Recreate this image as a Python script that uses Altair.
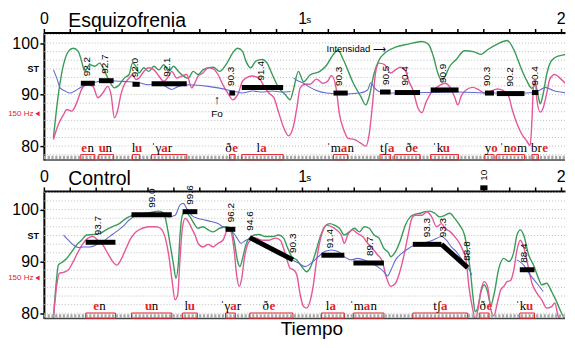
import altair as alt
import pandas as pd

PXS = 259.3            # pixels per second
W, H = 523, 128
X_MAX = W / PXS
SANS = "Liberation Sans"
NARROW = "Liberation Sans Narrow, Liberation Sans"
SERIF = "Liberation Serif, DejaVu Serif"
GREEN, PINK, BLUE, RED = "#3a9b58", "#e4579a", "#636acd", "#e4232b"

TIME_TICKS = [0.0, 0.1, 0.2, 0.3, 0.4, 0.5, 0.6, 0.7, 0.8, 0.9, 1.0,
              1.1, 1.2, 1.3, 1.4, 1.5, 1.6, 1.7, 1.8, 1.9, 2.0]
ST_TICKS = [80, 90, 95, 100]
GRID_ST = [78.33, 80.0, 81.67, 83.33, 85.0, 86.67, 88.33, 90.0, 91.67, 93.33,
           95.0, 96.67, 98.33, 100.0, 101.67, 103.33]

# ---------------- Esquizofrenia ----------------
esq_green = [[0.037, 81.6], [0.056, 90.0], [0.076, 95.8], [0.095, 98.4], [0.114, 99.0], [0.133, 98.4],
             [0.146, 96.5], [0.158, 94.5], [0.177, 95.8], [0.197, 95.5], [0.216, 96.1], [0.235, 94.5],
             [0.254, 92.6], [0.273, 91.3], [0.292, 91.9], [0.311, 93.2], [0.330, 93.9], [0.343, 96.1],
             [0.356, 95.5], [0.368, 94.2], [0.387, 95.2], [0.406, 94.5], [0.426, 95.5], [0.445, 94.8],
             [0.464, 95.8], [0.483, 94.5], [0.502, 95.5], [0.521, 94.5], [0.540, 93.6], [0.559, 93.2],
             [0.578, 94.5], [0.597, 93.9], [0.616, 94.8], [0.636, 95.2], [0.655, 95.3], [0.680, 94.5],
             [0.705, 95.8], [0.731, 98.1], [0.750, 99.0], [0.769, 98.4], [0.782, 96.5], [0.801, 95.2],
             [0.820, 96.5], [0.845, 96.8], [0.864, 96.1], [0.884, 93.9], [0.909, 91.3], [0.934, 90.0],
             [0.953, 89.0], [0.966, 91.0], [0.985, 94.5], [1.005, 92.5], [1.030, 93.8], [1.068, 94.5],
             [1.094, 95.7], [1.119, 97.7], [1.138, 98.6], [1.157, 97.0], [1.176, 94.8], [1.195, 92.5],
             [1.227, 89.6], [1.246, 88.0], [1.259, 89.6], [1.278, 94.1], [1.297, 96.7], [1.323, 98.2],
             [1.361, 99.2], [1.411, 99.8], [1.463, 100.3], [1.488, 99.8], [1.507, 97.5], [1.526, 94.0],
             [1.539, 92.8], [1.552, 93.5], [1.571, 95.5], [1.596, 96.8], [1.628, 98.5], [1.666, 98.3],
             [1.692, 97.8], [1.717, 98.7], [1.755, 99.8], [1.793, 100.5], [1.819, 98.7], [1.844, 95.5],
             [1.869, 92.7], [1.889, 91.2], [1.902, 92.0], [1.914, 89.5], [1.921, 88.2], [1.933, 90.3],
             [1.946, 93.9], [1.958, 96.0], [1.978, 97.2], [2.010, 97.7], [2.029, 97.8]]

esq_pink = [[0.037, 81.3], [0.056, 84.2], [0.076, 86.1], [0.089, 87.1], [0.108, 86.8], [0.127, 88.4],
            [0.146, 91.0], [0.165, 91.9], [0.190, 91.6], [0.209, 89.4], [0.228, 90.3], [0.247, 91.6],
            [0.260, 90.0], [0.273, 85.5], [0.285, 86.8], [0.298, 90.0], [0.311, 91.9], [0.330, 93.2],
            [0.343, 93.9], [0.356, 92.9], [0.368, 93.2], [0.387, 94.5], [0.406, 95.2], [0.426, 94.8],
            [0.445, 93.6], [0.464, 92.6], [0.483, 93.6], [0.495, 94.5], [0.514, 93.2], [0.534, 93.6],
            [0.553, 93.9], [0.572, 91.3], [0.585, 92.3], [0.597, 93.6], [0.616, 94.2], [0.636, 95.2],
            [0.655, 95.0], [0.674, 93.9], [0.693, 91.9], [0.712, 90.3], [0.731, 89.0], [0.750, 90.0],
            [0.769, 92.6], [0.782, 93.2], [0.807, 93.6], [0.833, 93.2], [0.852, 91.6], [0.871, 90.3],
            [0.890, 89.4], [0.909, 86.5], [0.928, 83.6], [0.947, 82.0], [0.966, 83.9], [0.979, 87.4],
            [0.992, 91.3], [1.011, 92.0], [1.030, 92.0], [1.055, 93.0], [1.081, 92.2], [1.100, 92.7],
            [1.113, 93.7], [1.132, 91.0], [1.143, 86.5], [1.162, 83.0], [1.177, 81.5], [1.200, 81.3],
            [1.223, 80.7], [1.246, 80.0], [1.259, 82.3], [1.272, 88.1], [1.284, 94.3], [1.297, 96.1],
            [1.319, 95.8], [1.342, 94.2], [1.361, 94.8], [1.380, 95.3], [1.399, 94.7], [1.411, 92.8],
            [1.429, 90.8], [1.448, 87.4], [1.463, 86.5], [1.479, 88.5], [1.501, 90.5], [1.526, 91.6],
            [1.552, 92.2], [1.571, 91.5], [1.590, 89.5], [1.602, 88.0], [1.616, 89.8], [1.634, 90.9],
            [1.660, 91.4], [1.681, 91.0], [1.704, 90.3], [1.727, 90.6], [1.755, 91.1], [1.777, 90.8],
            [1.798, 89.8], [1.812, 87.2], [1.831, 84.4], [1.850, 82.3], [1.869, 81.0], [1.882, 80.1],
            [1.889, 85.0], [1.895, 91.6], [1.902, 92.7], [1.908, 89.0], [1.921, 86.6], [1.933, 87.5],
            [1.946, 90.2], [1.958, 93.0], [1.978, 93.9], [1.997, 93.2], [2.016, 92.3], [2.029, 91.6]]

esq_blue_a = [[0.037, 94.8], [0.050, 93.2], [0.063, 91.3], [0.082, 90.7], [0.101, 90.3], [0.120, 90.7],
              [0.139, 91.3], [0.165, 91.9], [0.190, 92.3], [0.216, 92.6], [0.254, 92.7], [0.292, 92.6],
              [0.330, 92.5], [0.368, 92.3], [0.406, 91.9], [0.445, 92.3], [0.470, 91.6], [0.495, 91.0],
              [0.521, 91.6], [0.559, 91.9], [0.597, 91.8], [0.636, 91.6], [0.674, 91.3], [0.731, 90.7],
              [0.769, 90.3], [0.807, 90.7], [0.845, 90.5], [0.884, 90.7], [0.922, 90.5], [0.955, 90.6]]
esq_blue_b = [[0.966, 93.2], [0.979, 92.8], [1.005, 92.2], [1.030, 91.4], [1.055, 90.8], [1.094, 90.3],
              [1.157, 90.1], [1.221, 90.3], [1.253, 90.9], [1.265, 92.3], [1.278, 91.4], [1.297, 90.6],
              [1.348, 90.3], [1.475, 90.4], [1.602, 90.5], [1.730, 90.3], [1.869, 90.3], [1.921, 90.9],
              [1.940, 91.4], [1.971, 90.8], [2.029, 90.3]]

esq_bar_t1 = [0.143, 0.213, 0.343, 0.417, 0.718, 0.766, 1.121, 1.301, 1.358, 1.497, 1.707, 1.753, 1.889]
esq_bar_t2 = [0.197, 0.270, 0.371, 0.553, 0.740, 0.926, 1.176, 1.342, 1.456, 1.605, 1.742, 1.860, 1.914]
esq_bar_st = [92.2, 92.7, 92.0, 92.1, 90.3, 91.4, 90.3, 90.5, 90.4, 90.9, 90.3, 90.2, 90.4]
esq_lab_t = [0.167, 0.235, 0.353, 0.476, 0.724, 0.839, 1.144, 1.323, 1.399, 1.545, 1.717, 1.806, 1.901]
esq_lab_txt = ["92.2", "92.7", "92.0", "92.1", "90.3", "91.4", "90.3", "90.5", "90.4", "90.9",
               "90.3", "90.2", "90.4"]

esq_syl_pre = ["", "", "l", "ˈγ", "ð", "l", "ˈm", "tʃ", "ð", "ˈk", "y", "ˈn", "br"]
esq_syl_vow = ["e", "u", "u", "a", "e", "a", "a", "a", "e", "u", "o", "o", "e"]
esq_syl_post = ["n", "n", "", "r", "", "", "n", "", "", "", "", "m", ""]
esq_syl_t = [0.156, 0.226, 0.367, 0.467, 0.740, 0.850, 1.162, 1.344, 1.437, 1.558, 1.744, 1.818, 1.940]

# ---------------- Control ----------------
ctl_green = [[0.037, 79.1], [0.048, 86.0], [0.056, 89.3], [0.069, 89.8], [0.089, 90.6], [0.108, 91.9],
             [0.127, 93.2], [0.146, 94.1], [0.165, 95.1], [0.190, 95.2], [0.216, 95.4], [0.241, 96.1],
             [0.266, 96.7], [0.292, 97.3], [0.318, 98.3], [0.343, 98.9], [0.368, 99.1], [0.394, 99.3],
             [0.419, 99.5], [0.445, 99.7], [0.464, 99.3], [0.476, 97.0], [0.489, 93.2], [0.502, 89.3],
             [0.511, 86.8], [0.521, 90.0], [0.527, 95.1], [0.536, 98.9], [0.547, 99.6], [0.566, 98.6],
             [0.585, 97.0], [0.597, 96.4], [0.616, 96.7], [0.636, 96.1], [0.655, 95.7], [0.680, 96.4],
             [0.705, 96.7], [0.724, 96.4], [0.737, 93.8], [0.750, 90.0], [0.759, 89.0], [0.769, 90.6],
             [0.782, 93.2], [0.795, 94.5], [0.814, 95.1], [0.833, 95.2], [0.858, 94.8], [0.884, 94.8],
             [0.909, 95.1], [0.928, 94.5], [0.941, 92.9], [0.960, 90.9], [0.979, 90.3], [0.998, 89.0],
             [1.017, 88.0], [1.030, 88.7], [1.049, 91.3], [1.068, 94.5], [1.087, 96.7], [1.106, 97.3],
             [1.125, 97.0], [1.144, 96.4], [1.163, 95.1], [1.182, 95.7], [1.202, 96.4], [1.221, 95.7],
             [1.240, 96.7], [1.259, 96.4], [1.278, 95.1], [1.297, 94.5], [1.316, 92.5], [1.335, 91.6],
             [1.342, 90.9], [1.361, 91.9], [1.380, 94.1], [1.399, 97.0], [1.418, 98.6], [1.437, 99.1],
             [1.456, 99.3], [1.475, 99.6], [1.494, 99.7], [1.513, 99.3], [1.532, 98.6], [1.552, 98.9],
             [1.571, 99.3], [1.590, 98.3], [1.609, 97.0], [1.628, 95.1], [1.640, 91.9], [1.651, 88.0],
             [1.660, 83.6], [1.669, 80.3], [1.679, 81.0], [1.692, 84.2], [1.704, 85.5], [1.717, 84.2],
             [1.730, 81.6], [1.742, 83.6], [1.761, 88.7], [1.780, 90.6], [1.800, 90.0], [1.819, 91.9],
             [1.831, 95.1], [1.844, 96.1], [1.857, 95.1], [1.876, 91.3], [1.895, 89.3], [1.914, 86.8],
             [1.927, 85.5], [1.946, 85.8], [1.965, 84.2], [1.984, 82.3], [2.003, 80.1], [2.016, 79.1],
             [2.029, 80.4]]

ctl_pink = [[0.037, 79.1], [0.050, 85.5], [0.060, 87.7], [0.076, 87.9], [0.095, 88.4], [0.114, 90.0],
            [0.133, 91.9], [0.152, 93.5], [0.171, 94.5], [0.190, 94.8], [0.209, 94.1], [0.228, 93.2],
            [0.247, 91.6], [0.266, 90.0], [0.282, 89.3], [0.298, 90.3], [0.318, 92.5], [0.337, 94.5],
            [0.356, 95.7], [0.381, 96.4], [0.406, 96.7], [0.432, 96.7], [0.451, 96.4], [0.470, 94.5],
            [0.483, 91.3], [0.495, 86.8], [0.508, 82.6], [0.518, 83.6], [0.527, 90.6], [0.536, 96.4],
            [0.547, 98.3], [0.559, 97.7], [0.572, 96.4], [0.585, 95.1], [0.597, 93.5], [0.616, 92.8],
            [0.636, 93.3], [0.655, 92.8], [0.674, 93.5], [0.693, 94.1], [0.712, 96.1], [0.724, 95.7],
            [0.737, 91.9], [0.746, 87.4], [0.756, 85.2], [0.766, 86.8], [0.776, 90.6], [0.788, 93.2],
            [0.801, 94.1], [0.820, 94.5], [0.845, 94.1], [0.871, 94.1], [0.896, 94.5], [0.915, 94.1],
            [0.928, 92.5], [0.941, 90.3], [0.953, 88.7], [0.966, 88.4], [0.979, 87.4], [0.992, 83.6],
            [1.005, 81.3], [1.017, 81.0], [1.030, 82.3], [1.043, 85.5], [1.055, 90.0], [1.068, 93.8],
            [1.081, 96.1], [1.094, 97.0], [1.113, 96.7], [1.132, 96.1], [1.151, 95.1], [1.163, 93.5],
            [1.176, 95.1], [1.195, 96.1], [1.214, 95.4], [1.234, 94.8], [1.253, 93.5], [1.272, 92.5],
            [1.291, 91.3], [1.310, 90.0], [1.323, 87.4], [1.342, 85.2], [1.361, 85.8], [1.380, 88.4],
            [1.395, 91.5], [1.411, 95.4], [1.424, 98.3], [1.437, 98.9], [1.463, 98.9], [1.482, 99.6],
            [1.501, 98.6], [1.520, 96.7], [1.539, 97.3], [1.552, 96.4], [1.571, 95.8], [1.590, 94.8],
            [1.609, 93.5], [1.621, 92.2], [1.634, 90.3], [1.645, 85.2], [1.660, 80.7], [1.669, 78.8],
            [1.679, 80.5], [1.692, 84.5], [1.704, 86.1], [1.717, 85.2], [1.730, 80.7], [1.742, 79.5],
            [1.755, 82.0], [1.768, 84.5], [1.780, 85.2], [1.793, 86.1], [1.806, 86.3], [1.819, 88.4],
            [1.831, 92.2], [1.844, 94.1], [1.857, 92.8], [1.869, 90.3], [1.889, 85.8], [1.908, 83.9],
            [1.927, 82.6], [1.946, 81.0], [1.965, 81.3], [1.978, 82.0], [1.990, 79.5], [2.003, 78.8],
            [2.029, 78.8]]

ctl_blue_a = [[0.076, 95.1], [0.095, 94.1], [0.114, 93.2], [0.133, 92.7], [0.152, 92.8], [0.177, 92.8],
              [0.203, 93.2], [0.228, 93.8], [0.254, 94.8], [0.279, 95.7], [0.305, 96.7], [0.330, 98.0],
              [0.356, 98.8], [0.394, 99.1], [0.445, 99.1], [0.483, 98.6], [0.508, 98.9], [0.527, 100.9],
              [0.540, 101.2], [0.553, 100.2], [0.572, 98.9], [0.597, 98.3], [0.623, 98.0], [0.648, 97.7],
              [0.674, 97.3], [0.693, 96.7], [0.724, 96.1], [0.744, 94.8], [0.763, 93.5], [0.782, 94.1],
              [0.807, 94.5], [0.845, 93.2], [0.884, 92.2], [0.922, 91.3], [0.960, 90.3], [0.985, 89.7],
              [1.011, 89.0], [1.036, 89.7], [1.062, 90.9], [1.087, 91.9], [1.113, 92.2], [1.138, 91.9],
              [1.163, 90.9], [1.189, 90.3], [1.214, 90.6], [1.240, 90.3], [1.265, 89.7], [1.291, 89.0],
              [1.316, 88.0], [1.330, 87.2], [1.342, 88.2], [1.361, 90.3], [1.386, 91.6], [1.411, 92.5],
              [1.437, 93.2], [1.463, 93.5], [1.488, 93.8], [1.513, 94.3], [1.539, 94.8], [1.558, 94.1],
              [1.577, 92.8], [1.596, 91.9], [1.615, 90.6], [1.634, 89.3], [1.647, 88.4], [1.656, 87.4]]
ctl_blue_b = [[1.831, 90.3], [1.857, 89.3], [1.882, 87.4], [1.908, 85.8], [1.933, 84.2]]

ctl_bar_t1 = [0.162, 0.339, 0.537, 0.703, 0.797, 1.074, 1.198, 1.428, 1.539, 1.689, 1.842]
ctl_bar_t2 = [0.277, 0.495, 0.594, 0.741, 0.964, 1.163, 1.316, 1.539, 1.640, 1.717, 1.899]
ctl_bar_st1 = [93.7, 99.0, 99.6, 96.2, 94.6, 91.2, 89.7, 93.3, 93.3, 104.2, 88.4]
ctl_bar_st2 = [93.7, 99.0, 99.6, 96.2, 90.3, 91.2, 89.7, 93.3, 88.8, 104.2, 88.4]
ctl_lab_t = [0.209, 0.418, 0.566, 0.724, 0.796, 0.966, 1.106, 1.263, 1.482, 1.543, 1.638, 1.702, 1.860]
ctl_lab_st = [93.7, 99.0, 99.6, 96.2, 94.6, 90.3, 91.2, 89.7, 93.3, 93.3, 88.8, 104.2, 88.4]
ctl_lab_txt = ["93.7", "99.0", "99.6", "96.2", "94.6", "90.3", "91.4", "89.7", "93.3", "93.3",
               "88.8", "10", "88.4"]
ctl_box_t1 = [0.162, 0.339, 0.537, 0.703, 0.797, 1.074, 1.198, 1.428, 1.685, 1.842]
ctl_box_t2 = [0.277, 0.495, 0.594, 0.741, 0.964, 1.163, 1.316, 1.640, 1.723, 1.899]

ctl_syl_pre = ["", "", "l", "ˈγ", "ð", "l", "ˈm", "tʃ", "ð", "ˈk"]
ctl_syl_vow = ["e", "u", "u", "a", "e", "a", "a", "a", "e", "u"]
ctl_syl_post = ["n", "n", "", "r", "", "", "n", "", "", ""]
ctl_syl_t = [0.202, 0.405, 0.571, 0.734, 0.884, 1.118, 1.251, 1.550, 1.724, 1.880]


def panel(title, ydom, green, pink, blues, bars, labels, syl, boxes, hz_st, notes=None, tiempo=False):
    xs = alt.Scale(domain=[0, X_MAX], nice=False, zero=False)
    ys = alt.Scale(domain=ydom, nice=False, zero=False)

    x_axis = alt.Axis(orient="top", values=TIME_TICKS, title=None, grid=False,
                      labelExpr="datum.value == 0 ? '0' : (datum.value == 1 ? '1' : (datum.value == 2 ? '2' : ''))",
                      domainColor="black", domainWidth=2, tickColor="black", tickWidth=1.5, tickSize=4,
                      labelFont=SANS, labelFontSize=16, labelColor="black", labelPadding=2,
                      labelFlush=False, labelOverlap=False, minExtent=24, maxExtent=24)
    y_axis = alt.Axis(orient="left", values=ST_TICKS, title=None, grid=False,
                      labelExpr="datum.value == 95 ? 'ST' : datum.label",
                      domainColor="black", domainWidth=2, tickWidth=1.5, tickSize=4,
                      tickColor={"condition": {"test": "datum.value == 95", "value": "transparent"}, "value": "black"},
                      labelFont=SANS, labelColor="black", labelPadding=1.5,
                      labelFontSize={"condition": {"test": "datum.value == 95", "value": 9}, "value": 16},
                      labelFontWeight={"condition": {"test": "datum.value == 95", "value": "bold"}, "value": "normal"},
                      minExtent=35.5, maxExtent=35.5)

    def X(f):
        return alt.X(f, type="quantitative", scale=xs, axis=x_axis)

    def Y(f):
        return alt.Y(f, type="quantitative", scale=ys, axis=y_axis)

    dummy = pd.DataFrame({"a": [0]})
    grid_df = pd.DataFrame({"g": [g for g in GRID_ST if ydom[0] < g < ydom[1]]})
    grid = alt.Chart(grid_df).mark_rule(color="#bcbcbc", strokeDash=[1, 2], strokeWidth=1).encode(
        y=Y("g"))

    gdf = pd.DataFrame(green, columns=["t", "v"])
    g_line = alt.Chart(gdf).mark_line(color=GREEN, strokeWidth=1.4, interpolate="monotone", clip=True).encode(
        x=X("t"), y=Y("v"))
    pdf = pd.DataFrame(pink, columns=["t", "v"])
    p_line = alt.Chart(pdf).mark_line(color=PINK, strokeWidth=1.4, interpolate="monotone", clip=True).encode(
        x=X("t"), y=Y("v"))
    rows = []
    for i, seg in enumerate(blues):
        for t, v in seg:
            rows.append({"seg": i, "t": t, "v": v})
    bdf = pd.DataFrame(rows)
    b_line = alt.Chart(bdf).mark_line(color=BLUE, strokeWidth=1.1, interpolate="monotone", clip=True).encode(
        x=X("t"), y=Y("v"), detail="seg:N")

    bar_df = pd.DataFrame({"t1": bars[0], "t2": bars[1], "v1": bars[2], "v2": bars[3]})
    bar_layer = alt.Chart(bar_df).mark_rule(color="black", strokeWidth=5, strokeCap="butt").encode(
        x=X("t1"), x2=alt.X2("t2"), y=Y("v1"), y2=alt.Y2("v2"))

    lab_df = pd.DataFrame({"t": labels[0], "v": labels[1], "txt": labels[2]})
    lab_layer = alt.Chart(lab_df).mark_text(angle=270, align="left", baseline="middle", dx=7,
                                            fontSize=10, font=NARROW, color="black").encode(
        x=X("t"), y=Y("v"), text="txt:N")

    syl_df = pd.DataFrame({"pre": syl[0], "vow": syl[1], "post": syl[2], "t": syl[3]})
    syl_y = alt.value(H - 8.5)
    s_pre = alt.Chart(syl_df).mark_text(align="right", baseline="alphabetic", dx=-3.3, fontSize=13,
                                        font=SERIF, color="black").encode(x=X("t"), y=syl_y, text="pre:N")
    s_vow = alt.Chart(syl_df).mark_text(align="center", baseline="alphabetic", fontSize=13, fontWeight="bold",
                                        font=SERIF, color=RED).encode(x=X("t"), y=syl_y, text="vow:N")
    s_post = alt.Chart(syl_df).mark_text(align="left", baseline="alphabetic", dx=3.3, fontSize=13,
                                         font=SERIF, color="black").encode(x=X("t"), y=syl_y, text="post:N")

    dots = alt.Chart(dummy).mark_rule(color="#a8a8a8", strokeWidth=3.2, strokeDash=[2.2, 1.6]).encode(
        x=alt.value(0), x2=alt.value(W), y=alt.value(H - 2.6))
    base = alt.Chart(dummy).mark_rule(color="#444444", strokeWidth=1.5).encode(
        x=alt.value(0), x2=alt.value(W), y=alt.value(H))
    box_df = pd.DataFrame({"t1": boxes[0], "t2": boxes[1]})
    box_layer = alt.Chart(box_df).mark_rect(filled=False, color=RED, strokeWidth=1).encode(
        x=X("t1"), x2=alt.X2("t2"), y=alt.value(H - 5.5), y2=alt.value(H - 0.3))

    title_layer = alt.Chart(dummy).mark_text(align="left", baseline="alphabetic", fontSize=19.5, font=SANS,
                                             color="black").encode(
        x=alt.value(24.5), y=alt.value(-6), text=alt.value(title))
    s_layer = alt.Chart(pd.DataFrame({"t": [1.0]})).mark_text(align="left", baseline="alphabetic", dx=4,
                                                              fontSize=10, font=SANS, color="black").encode(
        x=X("t"), y=alt.value(-9.5), text=alt.value("s"))
    hz_df = pd.DataFrame({"v": [hz_st]})
    hz_text = alt.Chart(hz_df).mark_text(align="right", baseline="middle", fontSize=8, font=SANS,
                                         color=RED).encode(x=alt.value(-10.5), y=Y("v"), text=alt.value("150 Hz"))
    hz_tri = alt.Chart(hz_df).mark_point(shape="triangle-left", filled=True, size=25, color=RED,
                                         opacity=1).encode(x=alt.value(-6.5), y=Y("v"))

    layers = [grid, g_line, p_line, b_line, dots, base, box_layer, bar_layer, lab_layer,
              s_pre, s_vow, s_post, title_layer, s_layer, hz_text, hz_tri]

    if notes:
        for (t, v, txt, size, align) in notes:
            ndf = pd.DataFrame({"t": [t], "v": [v], "txt": [txt]})
            layers.append(alt.Chart(ndf).mark_text(align=align, baseline="middle", fontSize=size,
                                                   font=SANS, color="black").encode(
                x=X("t"), y=Y("v"), text="txt:N"))
    if tiempo:
        layers.append(alt.Chart(dummy).mark_text(align="center", baseline="alphabetic", fontSize=19,
                                                 font=SANS, color="black").encode(
            x=alt.value(269), y=alt.value(H + 17), text=alt.value("Tiempo")))

    return alt.layer(*layers).properties(width=W, height=H)


esq_notes = [(1.094, 98.8, "Intensidad \u27f6", 9.5, "left"),
             (0.670, 88.9, "\u2191", 13, "center"),
             (0.670, 86.3, "Fo", 10, "center")]

top = panel("Esquizofrenia", [77.3, 102.05], esq_green, esq_pink, [esq_blue_a, esq_blue_b],
            [esq_bar_t1, esq_bar_t2, esq_bar_st, esq_bar_st],
            [esq_lab_t, esq_bar_st, esq_lab_txt],
            [esq_syl_pre, esq_syl_vow, esq_syl_post, esq_syl_t],
            [esq_bar_t1, esq_bar_t2], 86.3, notes=esq_notes)

bottom = panel("Control", [79.0, 103.6], ctl_green, ctl_pink, [ctl_blue_a, ctl_blue_b],
               [ctl_bar_t1, ctl_bar_t2, ctl_bar_st1, ctl_bar_st2],
               [ctl_lab_t, ctl_lab_st, ctl_lab_txt],
               [ctl_syl_pre, ctl_syl_vow, ctl_syl_post, ctl_syl_t],
               [ctl_box_t1, ctl_box_t2], 86.8, tiempo=True)

chart = alt.vconcat(top, bottom, spacing=6).properties(padding=0).configure_view(stroke=None)
chart.save("out.html", embed_options={"renderer": "svg", "actions": False})
